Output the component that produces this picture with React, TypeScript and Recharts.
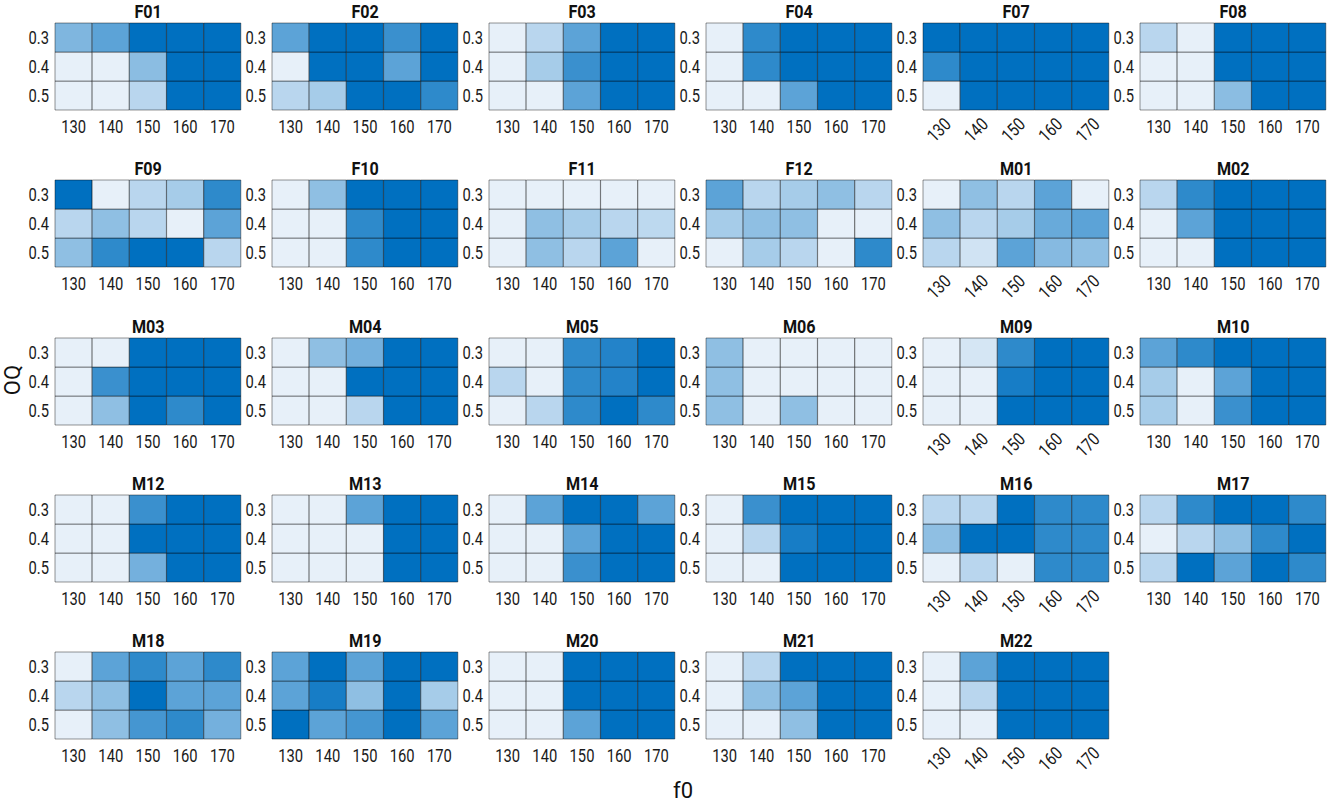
import React from 'react';
import { BarChart, Bar, XAxis, YAxis, Cell } from 'recharts';

const F0_VALUES = [130, 140, 150, 160, 170];
const OQ_LABELS = ['0.3', '0.4', '0.5'];

// rows: OQ 0.3, 0.4, 0.5 ; columns: f0 130..170 ; value 0 (light) .. 1 (dark)
const F01 = [[0.45, 0.6, 1, 1, 1], [0, 0, 0.4, 1, 1], [0, 0, 0.2, 1, 1]];
const F02 = [[0.6, 1, 1, 0.75, 1], [0, 1, 1, 0.6, 1], [0.2, 0.28, 1, 1, 0.8]];
const F03 = [[0, 0.2, 0.6, 1, 1], [0, 0.28, 0.75, 1, 1], [0, 0, 0.6, 1, 1]];
const F04 = [[0, 0.8, 1, 1, 1], [0, 0.8, 1, 1, 1], [0, 0, 0.6, 1, 1]];
const F07 = [[1, 1, 1, 1, 1], [0.8, 1, 1, 1, 1], [0, 1, 1, 1, 1]];
const F08 = [[0.2, 0, 1, 1, 1], [0, 0, 1, 1, 1], [0, 0, 0.4, 1, 1]];
const F09 = [[1, 0, 0.2, 0.28, 0.8], [0.2, 0.38, 0.2, 0, 0.6], [0.38, 0.8, 1, 1, 0.2]];
const F10 = [[0, 0.38, 1, 1, 1], [0, 0, 0.8, 1, 1], [0, 0, 0.8, 1, 1]];
const F11 = [[0, 0, 0, 0, 0], [0, 0.38, 0.28, 0.2, 0.18], [0, 0.38, 0.2, 0.6, 0]];
const F12 = [[0.6, 0.2, 0.28, 0.38, 0.2], [0.28, 0.38, 0.38, 0, 0], [0, 0.28, 0.2, 0, 0.8]];
const M01 = [[0, 0.38, 0.2, 0.6, 0], [0.38, 0.2, 0.28, 0.55, 0.6], [0.2, 0.1, 0.6, 0.42, 0.38]];
const M02 = [[0.2, 0.8, 1, 1, 1], [0, 0.6, 1, 1, 1], [0, 0, 1, 1, 1]];
const M03 = [[0, 0, 1, 1, 1], [0, 0.75, 1, 1, 1], [0, 0.38, 1, 0.8, 1]];
const M04 = [[0, 0.38, 0.5, 1, 1], [0, 0, 1, 1, 1], [0, 0, 0.2, 1, 1]];
const M05 = [[0, 0, 0.8, 0.85, 1], [0.2, 0, 0.8, 0.85, 1], [0, 0.2, 0.8, 1, 0.8]];
const M06 = [[0.38, 0, 0, 0, 0], [0.38, 0, 0, 0, 0], [0.38, 0, 0.38, 0, 0]];
const M09 = [[0, 0.08, 0.8, 1, 1], [0, 0, 0.9, 1, 1], [0, 0, 1, 1, 1]];
const M10 = [[0.6, 0.8, 1, 1, 1], [0.28, 0, 0.6, 1, 1], [0.28, 0, 0.75, 1, 1]];
const M12 = [[0, 0, 0.75, 1, 1], [0, 0, 1, 1, 1], [0, 0, 0.5, 1, 1]];
const M13 = [[0, 0, 0.6, 1, 1], [0, 0, 0, 1, 1], [0, 0, 0, 1, 1]];
const M14 = [[0, 0.6, 1, 1, 0.6], [0, 0, 0.6, 1, 1], [0, 0, 0.75, 1, 1]];
const M15 = [[0, 0.75, 1, 1, 1], [0, 0.2, 0.9, 1, 1], [0, 0, 1, 1, 1]];
const M16 = [[0.2, 0.2, 1, 0.8, 0.8], [0.38, 1, 1, 0.8, 0.8], [0, 0.2, 0, 0.8, 0.8]];
const M17 = [[0.2, 0.8, 1, 1, 0.8], [0, 0.2, 0.38, 0.8, 1], [0.2, 1, 0.6, 1, 0.8]];
const M18 = [[0, 0.6, 0.8, 0.6, 0.8], [0.2, 0.38, 1, 0.6, 0.6], [0, 0.38, 0.7, 0.8, 0.5]];
const M19 = [[0.6, 1, 0.6, 1, 1], [0.6, 0.9, 0.38, 1, 0.28], [1, 0.6, 0.7, 1, 0.6]];
const M20 = [[0, 0, 1, 1, 1], [0, 0, 1, 1, 1], [0, 0, 0.6, 1, 1]];
const M21 = [[0, 0.2, 1, 1, 1], [0, 0.38, 0.6, 1, 1], [0, 0, 0.38, 1, 1]];
const M22 = [[0, 0.6, 1, 1, 1], [0, 0.2, 1, 1, 1], [0, 0, 1, 1, 1]];

const PANEL_NAMES = [
  'F01', 'F02', 'F03', 'F04', 'F07', 'F08',
  'F09', 'F10', 'F11', 'F12', 'M01', 'M02',
  'M03', 'M04', 'M05', 'M06', 'M09', 'M10',
  'M12', 'M13', 'M14', 'M15', 'M16', 'M17',
  'M18', 'M19', 'M20', 'M21', 'M22',
];
const PANEL_VALUES = [
  F01, F02, F03, F04, F07, F08,
  F09, F10, F11, F12, M01, M02,
  M03, M04, M05, M06, M09, M10,
  M12, M13, M14, M15, M16, M17,
  M18, M19, M20, M21, M22,
];
const ROTATED = ['F07', 'M01', 'M09', 'M16', 'M22'];

const FONT = "Roboto, 'Noto Sans', sans-serif";
const SX = 0.82;
const LIGHT = [231, 240, 249];
const DARK = [0, 112, 192];

function color(v: number): string {
  const c = LIGHT.map((l, i) => Math.round(l + (DARK[i] - l) * v));
  return `rgb(${c[0]},${c[1]},${c[2]})`;
}

const COL_LEFT = [55, 272, 489, 706, 923, 1140];
const ROW_TOP = [23, 180, 338, 495, 652];
const Y_AXIS_W = 50;
const PLOT_W = 186;
const PLOT_H = 87;
const X_AXIS_H = 55;

const XTick = (props: any) => {
  const { x, y, payload, rot } = props;
  if (rot) {
    return (
      <text
        transform={`translate(${x + 6} ${y + 1}) rotate(-45) scale(${SX} 1)`}
        textAnchor="end"
        dy="0.35em"
        fontSize={18}
        fontFamily={FONT}
        fill="#1a1a1a"
      >
        {payload.value}
      </text>
    );
  }
  return (
    <text
      transform={`translate(${x} ${y}) scale(${SX} 1)`}
      dy="0.71em"
      textAnchor="middle"
      fontSize={18}
      fontFamily={FONT}
      fill="#1a1a1a"
    >
      {payload.value}
    </text>
  );
};

const YTick = (props: any) => {
  const { x, y, payload } = props;
  return (
    <text
      transform={`translate(${x} ${y}) scale(${SX} 1)`}
      dy="0.355em"
      textAnchor="end"
      fontSize={18}
      fontFamily={FONT}
      fill="#1a1a1a"
    >
      {OQ_LABELS[2 - Math.floor(payload.value)]}
    </text>
  );
};

function Panel({ name, values, idx }: { name: string; values: number[][]; idx: number }) {
  const col = idx % 6;
  const row = Math.floor(idx / 6);
  const rot = ROTATED.includes(name);
  const data = F0_VALUES.map((f) => ({ f0: String(f), r5: 1, r4: 1, r3: 1 }));
  const left = COL_LEFT[col];
  const top = ROW_TOP[row];
  const stroke = 'rgba(0,0,0,0.42)';
  return (
    <>
      <div
        style={{
          position: 'absolute',
          left,
          top: top - 22,
          width: PLOT_W,
          height: 21,
          lineHeight: '21px',
          textAlign: 'center',
          fontFamily: FONT,
          fontWeight: 'bold',
          fontSize: 19,
          color: '#111',
        }}
      >
        <span style={{ display: 'inline-block', transform: 'scaleX(0.85)' }}>{name}</span>
      </div>
      <div style={{ position: 'absolute', left: left - Y_AXIS_W, top: top - 1 }}>
        <BarChart
          width={Y_AXIS_W + PLOT_W + 2}
          height={PLOT_H + X_AXIS_H + 1}
          data={data}
          margin={{ top: 1, right: 2, bottom: 0, left: 0 }}
          barCategoryGap={0}
          barGap={0}
        >
          <XAxis
            dataKey="f0"
            interval={0}
            axisLine={false}
            tickLine={false}
            height={X_AXIS_H}
            tickMargin={4}
            tick={<XTick rot={rot} />}
          />
          <YAxis
            type="number"
            domain={[0, 3]}
            ticks={[0.5, 1.5, 2.5]}
            width={Y_AXIS_W}
            axisLine={false}
            tickLine={false}
            tickMargin={0}
            tick={<YTick />}
          />
          <Bar dataKey="r5" stackId="s" stroke={stroke} strokeWidth={1} isAnimationActive={false}>
            {data.map((d, i) => (
              <Cell key={i} fill={color(values[2][i])} />
            ))}
          </Bar>
          <Bar dataKey="r4" stackId="s" stroke={stroke} strokeWidth={1} isAnimationActive={false}>
            {data.map((d, i) => (
              <Cell key={i} fill={color(values[1][i])} />
            ))}
          </Bar>
          <Bar dataKey="r3" stackId="s" stroke={stroke} strokeWidth={1} isAnimationActive={false}>
            {data.map((d, i) => (
              <Cell key={i} fill={color(values[0][i])} />
            ))}
          </Bar>
        </BarChart>
      </div>
    </>
  );
}

export default function App() {
  return (
    <div
      style={{
        position: 'absolute',
        left: 0,
        top: 0,
        width: 1328,
        height: 806,
        background: '#fff',
        overflow: 'hidden',
      }}
    >
      {PANEL_NAMES.map((n, i) => (
        <Panel key={n} name={n} values={PANEL_VALUES[i]} idx={i} />
      ))}
      <div
        style={{
          position: 'absolute',
          left: 12,
          top: 380,
          transform: 'translate(-50%, -50%) rotate(-90deg)',
          fontFamily: FONT,
          fontSize: 22,
          color: '#111',
          whiteSpace: 'nowrap',
        }}
      >
        OQ
      </div>
      <div
        style={{
          position: 'absolute',
          left: 683,
          top: 790,
          transform: 'translate(-50%, -50%)',
          fontFamily: FONT,
          fontSize: 22,
          color: '#111',
          whiteSpace: 'nowrap',
        }}
      >
        f0
      </div>
    </div>
  );
}
